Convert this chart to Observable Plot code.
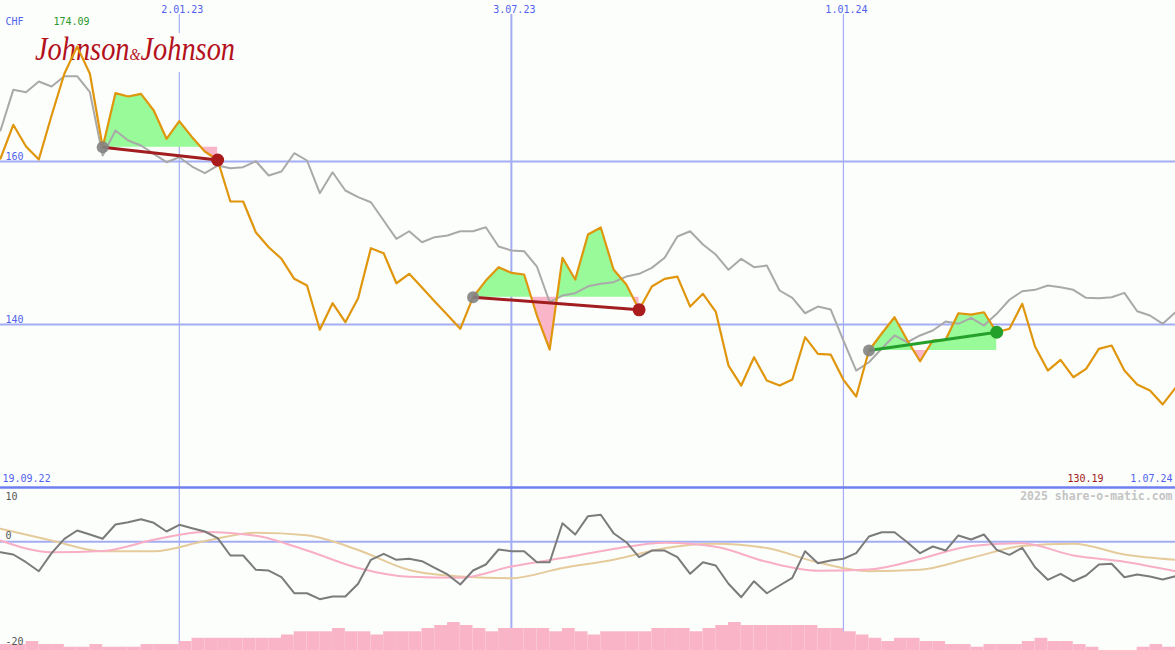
<!DOCTYPE html>
<html><head><meta charset="utf-8">
<script src="https://cdn.jsdelivr.net/npm/d3@7"></script>
<script src="https://cdn.jsdelivr.net/npm/@observablehq/plot@0.6"></script>
<style>
html,body{margin:0;padding:0;background:#fcfefc;overflow:hidden;}
#chart{width:1175px;}
#chart svg{display:block;overflow:visible;}
</style></head><body><div id="chart"></div>
<script>
// ---------- data ----------
const startWeek = "2022-09-26";          // first weekly close
const currency = "CHF";
const company = ["Johnson", "&", "Johnson"];
const credit = "2025 share-o-matic.com";
const rangeLabels = ["19.09.22", "1.07.24"];
const gridDates = ["2023-01-02", "2023-07-03", "2024-01-01"];
const gridLabels = ["2.01.23", "3.07.23", "1.01.24"];
const yTicks = [160, 140];
const lowerTicks = [10, 0, -20];

// weekly share price (orange)
const price = [160.36, 164.50, 161.84, 160.24, 165.64, 170.76, 174.09, 170.76, 161.75, 168.38,
 167.97, 168.30, 166.25, 162.78, 164.94, 162.98, 161.22, 160.18, 155.09, 155.09,
 151.28, 149.48, 148.06, 145.60, 144.78, 139.35, 142.61, 140.28, 143.22, 149.36,
 148.74, 145.06, 146.22, 144.54, 142.82, 141.15, 139.47, 143.35, 145.39, 147.03,
 146.34, 146.13, 141.10, 136.93, 148.18, 145.52, 151.04, 151.90, 146.74, 144.90,
 141.80, 144.66, 145.60, 145.88, 142.20, 143.76, 141.59, 134.96, 132.51, 135.98,
 133.12, 132.51, 133.25, 138.44, 136.40, 136.31, 133.21, 131.16, 136.81, 138.89,
 140.89, 138.07, 135.49, 138.03, 138.12, 141.38, 141.22, 141.50, 139.05, 139.47,
 142.54, 137.30, 134.35, 135.66, 133.53, 134.56, 137.01, 137.42, 134.35, 132.63,
 131.90, 130.19, 132.23];

// comparison index, rescaled (grey)
const index = [163.80, 168.79, 168.50, 169.81, 169.20, 170.46, 170.46, 168.50, 160.73, 163.80,
 162.57, 161.96, 160.94, 159.91, 160.52, 159.38, 158.56, 159.50, 159.17, 159.30,
 160.03, 158.28, 158.77, 161.01, 160.12, 156.11, 158.68, 156.44, 155.62, 155.00,
 152.76, 150.51, 151.44, 150.09, 150.71, 150.92, 151.44, 151.44, 151.93, 149.57,
 149.08, 148.99, 147.11, 142.73, 143.55, 143.84, 144.69, 144.99, 145.19, 145.88,
 146.22, 146.95, 148.18, 150.79, 151.44, 149.81, 148.58, 146.71, 148.06, 147.03,
 147.23, 144.17, 143.27, 141.38, 142.20, 141.84, 138.03, 134.35, 135.37, 137.05,
 138.65, 137.82, 138.65, 139.26, 140.36, 140.08, 140.82, 139.87, 141.31, 143.03,
 144.08, 144.25, 144.78, 144.57, 144.25, 143.27, 143.22, 143.35, 143.88, 141.63,
 141.10, 140.08, 141.50];

// lower panel oscillator (dark grey), weekly
const momentum = [-1.91, -2.33, -3.75, -5.41, -2.09, 0.56, 2.09, 1.35, 0.56, 3.19,
 3.61, 4.17, 3.50, 1.90, 3.13, 2.51, 1.90, 0.67, -2.52, -2.52,
 -5.15, -5.28, -6.51, -9.46, -9.46, -10.56, -10.06, -10.06, -7.72, -3.31,
 -2.20, -3.31, -3.12, -3.57, -4.78, -6.01, -7.85, -5.28, -4.17, -1.41,
 -1.72, -1.72, -3.75, -3.75, 3.43, 1.35, 4.72, 4.98, 1.59, -0.07,
 -2.83, -1.60, -1.60, -2.83, -5.88, -3.75, -4.36, -7.72, -10.19, -7.25,
 -9.46, -8.04, -6.62, -1.72, -3.93, -3.44, -3.12, -2.09, 0.98, 1.77,
 1.77, -0.07, -2.09, -0.86, -1.60, 1.17, 0.43, 1.35, -1.47, -2.39,
 -1.10, -4.67, -6.99, -5.88, -7.25, -6.20, -4.17, -4.04, -6.51, -6.01,
 -6.38, -6.93, -6.33];

// smooth averages, read every 4th week
const avgStep = 4;
const pinkAvg = [0.25, -1.91, -1.69, 0.37, 1.81, 1.11, -1.60, -4.82, -6.44, -6.62, -4.54, -2.98,
 -1.32, -0.18, -0.91, -3.68, -5.31, -5.09, -3.16, -0.77, -0.27, -2.52, -3.66, -5.41];
const tanAvg = [2.40, 0.25, -1.72, -1.72, 0.15, 1.66, 1.20, -1.50, -5.18, -6.38, -6.69, -4.82,
 -3.29, -1.17, -0.36, -1.15, -3.80, -5.41, -5.15, -2.98, -0.77, -0.36, -2.33, -3.31];

// weekly volume bars (panel units above the floor)
const volume = [1.1, 1.1, 1.65, 1.1, 1.1, 0.6, 0.6, 1.1, 0.6, 0.6, 0.6, 1.1, 1.1, 1.1,
 1.65, 2.25, 2.25, 2.25, 2.25, 2.25, 2.25, 2.25, 2.85, 3.45, 3.45, 3.45, 4.05, 3.45, 3.45, 2.85,
 3.45, 3.45, 3.45, 4.05, 4.6, 5.15, 4.6, 4.05, 3.45, 4.05, 4.05, 4.05, 4.05, 3.45, 4.05, 3.45,
 2.85, 3.45, 3.45, 3.45, 3.45, 4.05, 4.05, 4.05, 3.45, 4.05, 4.6, 5.15, 4.6, 4.6, 4.6, 4.6,
 4.6, 4.6, 4.05, 4.05, 3.45, 2.85, 2.25, 1.65, 2.25, 2.25, 1.65, 1.65, 1.1, 1.1, 0.6, 1.1,
 1.1, 1.1, 1.65, 2.25, 1.65, 1.65, 1.1, 0.6, 0, 0, 0, 0.6, 1.1, 0.6];

// trades: week index of buy and sell
const trades = [{buy: 8, sell: 17}, {buy: 37, sell: 50}, {buy: 68, sell: 78}];

// ---------- build ----------
const bg = "#fcfefc", grid = "#a4adf3", blue = "#5262ee";
const font = "DejaVu Sans Mono, monospace";
const parse = d3.utcParse("%Y-%m-%d");
const t0 = parse(startWeek);
const dates = price.map((_, i) => d3.utcDay.offset(t0, 7 * i));
const gDates = gridDates.map(parse);
const rows = price.map((p, i) => ({date: dates[i], price: p, index: index[i], mom: momentum[i]}));
const avgRows = pinkAvg.map((p, k) => ({date: dates[k * avgStep], pink: p, tan: tanAvg[k]}));
const volRows = volume.map((v, i) => ({d0: dates[i], d1: dates[i + 1], v}));
const tr = trades.map((t, k) => ({...t, k, d0: dates[t.buy], p0: price[t.buy], d1: dates[t.sell], p1: price[t.sell],
  win: price[t.sell] > price[t.buy]}));
const fill = [];
tr.forEach(t => {
  for (let i = t.buy; i <= t.sell; i++) {
    if (i > t.buy) {
      const a = price[i - 1] - t.p0, b = price[i] - t.p0;
      if (a * b < 0) {
        const f = a / (a - b);
        fill.push({k: t.k, date: new Date(+dates[i - 1] + f * (dates[i] - dates[i - 1])), base: t.p0, v: t.p0});
      }
    }
    fill.push({k: t.k, date: dates[i], base: t.p0, v: price[i]});
  }
});
const maxP = d3.max(price), minP = d3.min(price);
const xOpt = {type: "utc", domain: [dates[0], dates[dates.length - 1]], axis: null};
const txt = {fontFamily: font, fontSize: 10};

const main = Plot.plot({
  width: 1175, height: 487, margin: 0,
  style: {background: bg, overflow: "visible", fontFamily: font},
  x: xOpt,
  y: {domain: [120, 179.75], axis: null},
  marks: [
    Plot.ruleY(yTicks, {stroke: grid, strokeWidth: 2}),
    Plot.ruleX(gDates, {stroke: grid, strokeWidth: (d, i) => i === 1 ? 2 : 1.2, insetTop: 14}),
    Plot.area(fill, {x1: "date", y1: "base", y2: d => Math.max(d.v, d.base), z: "k", fill: "#98fa98"}),
    Plot.area(fill, {x1: "date", y1: "base", y2: d => Math.min(d.v, d.base), z: "k", fill: "#fab5c9"}),
    Plot.line(rows, {x: "date", y: "index", stroke: "#a9a9a9", strokeWidth: 2}),
    Plot.line(rows, {x: "date", y: "price", stroke: "#e0960c", strokeWidth: 2.2}),
    Plot.link(tr.filter(d => !d.win), {x1: "d0", y1: "p0", x2: "d1", y2: "p1", stroke: "#a21d1f", strokeWidth: 3}),
    Plot.link(tr.filter(d => d.win), {x1: "d0", y1: "p0", x2: "d1", y2: "p1", stroke: "#24a02b", strokeWidth: 3}),
    Plot.dot(tr, {x: "d0", y: "p0", r: 6, fill: "#838383", fillOpacity: 0.9}),
    Plot.dot(tr.filter(d => !d.win), {x: "d1", y: "p1", r: 6.5, fill: "#ab1c1c"}),
    Plot.dot(tr.filter(d => d.win), {x: "d1", y: "p1", r: 6.5, fill: "#23a02a"}),
    Plot.text(yTicks, {...txt, y: d => d, frameAnchor: "left", textAnchor: "start", dx: 5, dy: -5, text: d => String(d), fill: blue}),
    Plot.text(gDates, {...txt, x: d => d, frameAnchor: "top", lineAnchor: "middle", dy: 9, dx: 3, text: (d, i) => gridLabels[i], fill: blue}),
    Plot.text([currency], {...txt, frameAnchor: "top-left", textAnchor: "start", lineAnchor: "middle", dx: 5, dy: 21, fill: blue}),
    Plot.text([maxP], {...txt, frameAnchor: "top-left", textAnchor: "start", lineAnchor: "middle", dx: 53, dy: 21, text: d => d.toFixed(2), fill: "#2a982a"}),
    Plot.text([rangeLabels[0]], {...txt, frameAnchor: "bottom-left", textAnchor: "start", lineAnchor: "middle", dx: 2, dy: -9, fill: blue}),
    Plot.text([rangeLabels[1]], {...txt, frameAnchor: "bottom-right", textAnchor: "end", lineAnchor: "middle", dx: -3, dy: -9, fill: blue}),
    Plot.text([minP], {...txt, frameAnchor: "bottom-right", textAnchor: "end", lineAnchor: "middle", dx: -72, dy: -9, text: d => d.toFixed(2), fill: "#a01818"})
  ]
});

// logo (real text) over the grid, under the data
const ns = "http://www.w3.org/2000/svg";
const firstArea = main.querySelector('g[aria-label="area"]');
const box = document.createElementNS(ns, "rect");
box.setAttribute("x", 30); box.setAttribute("y", 33); box.setAttribute("width", 212); box.setAttribute("height", 39);
box.setAttribute("fill", bg);
main.insertBefore(box, firstArea);
const logo = document.createElementNS(ns, "text");
logo.setAttribute("x", 35); logo.setAttribute("y", 60);
logo.setAttribute("text-anchor", "start");
logo.setAttribute("font-family", "Liberation Serif, DejaVu Serif, serif");
logo.setAttribute("font-style", "italic");
logo.setAttribute("font-size", 34);
logo.setAttribute("fill", "#b3121c");
logo.setAttribute("textLength", 200);
logo.setAttribute("lengthAdjust", "spacingAndGlyphs");
company.forEach((word, i) => {
  const s = document.createElementNS(ns, "tspan");
  s.textContent = word;
  if (i === 1) s.setAttribute("font-size", 17);
  logo.appendChild(s);
});
main.insertBefore(logo, firstArea);

const lowerDy = [9, -6.5, -8.5];
const lower = Plot.plot({
  width: 1175, height: 163, margin: 0,
  style: {background: bg, overflow: "visible", fontFamily: font},
  x: xOpt,
  y: {domain: [-20, 10], axis: null},
  marks: [
    Plot.ruleX(gDates, {stroke: grid, strokeWidth: (d, i) => i === 1 ? 2 : 1.2}),
    Plot.ruleY([0], {stroke: grid, strokeWidth: 2}),
    Plot.rect(volRows, {x1: "d0", x2: "d1", y1: -20, y2: d => -20 + d.v, fill: "#f9b4c8"}),
    Plot.line(avgRows, {x: "date", y: "tan", stroke: "#e5cb9c", strokeWidth: 2, curve: "monotone-x"}),
    Plot.line(avgRows, {x: "date", y: "pink", stroke: "#f8afc6", strokeWidth: 2, curve: "monotone-x"}),
    Plot.line(rows, {x: "date", y: "mom", stroke: "#7b7b7b", strokeWidth: 2}),
    Plot.ruleY([10], {stroke: "#6f7ff0", strokeWidth: 2.5}),
    ...lowerTicks.map((t, i) => Plot.text([t], {...txt, y: d => d, frameAnchor: "left", textAnchor: "start",
      lineAnchor: "middle", dx: 5, dy: lowerDy[i], text: d => String(d), fill: "#555555"})),
    Plot.text([credit], {fontFamily: font, fontSize: 11.5, fontWeight: "bold", frameAnchor: "top-right", textAnchor: "end",
      lineAnchor: "middle", dx: -3, dy: 9, fill: "#c4c4c4"})
  ]
});

const root = document.getElementById("chart");
root.appendChild(main);
root.appendChild(lower);
</script>
</body></html>
